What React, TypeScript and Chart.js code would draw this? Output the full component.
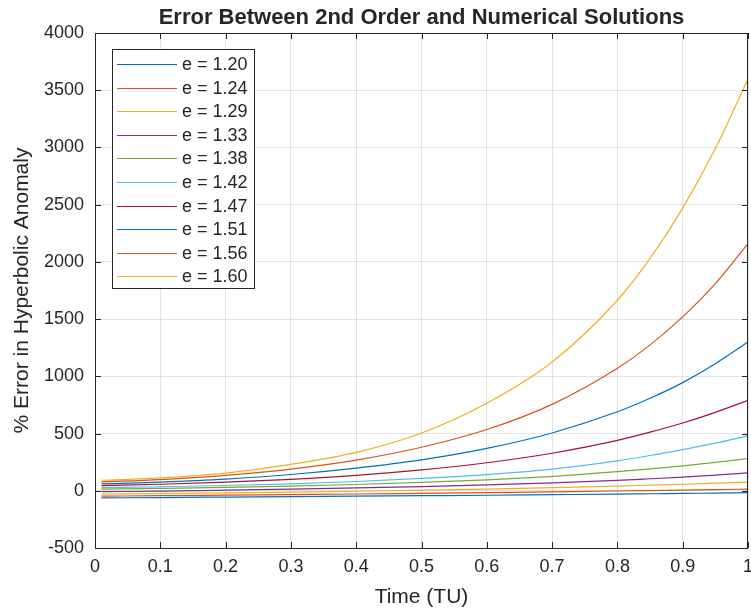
import React, { useEffect, useRef } from 'react';
import { Chart, registerables } from 'chart.js';

Chart.register(...registerables);

// Sample times (TU) shared by every series
const timeTU = [0.01, 0.1, 0.2, 0.3, 0.4, 0.5, 0.6, 0.7, 0.8, 0.85, 0.9, 0.95, 1.0];

// Eccentricity of each trajectory
const eccentricityLabels = [
  'e = 1.20', 'e = 1.24', 'e = 1.29', 'e = 1.33', 'e = 1.38',
  'e = 1.42', 'e = 1.47', 'e = 1.51', 'e = 1.56', 'e = 1.60',
];

// % error in hyperbolic anomaly at each sample time
const errE120 = [-62, -59, -55, -51, -47, -43, -39, -34, -29, -26, -23, -20, -17];
const errE124 = [-47, -43, -38, -33, -28, -22, -16, -9, -2, 2, 6, 10, 15];
const errE129 = [-28, -24, -18, -11, -4, 5, 15, 27, 41, 49, 57, 66, 75];
const errE133 = [-8, -3, 5, 14, 25, 37, 51, 69, 91, 105, 120, 137, 157];
const errE138 = [15, 21, 29, 40, 55, 73, 96, 126, 168, 192, 218, 248, 282];
const errE142 = [28, 35, 46, 61, 81, 108, 142, 190, 262, 308, 360, 416, 480];
const errE147 = [45, 57, 75, 100, 135, 183, 245, 328, 440, 512, 592, 685, 790];
const errE151 = [60, 76, 102, 142, 198, 270, 370, 505, 690, 808, 945, 1110, 1300];
const errE156 = [78, 98, 135, 190, 268, 380, 535, 755, 1070, 1275, 1520, 1810, 2160];
const errE160 = [92, 112, 155, 230, 335, 505, 765, 1125, 1665, 2030, 2470, 2990, 3600];

const seriesValues = [
  errE120, errE124, errE129, errE133, errE138,
  errE142, errE147, errE151, errE156, errE160,
];

// Default line colour order, cycling after seven
const lineColors = [
  '#0072BD', '#D95319', '#EDB120', '#7E2F8E', '#77AC30',
  '#4DBEEE', '#A2142F', '#0072BD', '#D95319', '#EDB120',
];

const TEXT = '#262626';
const FONT = "'Liberation Sans', Arial, Helvetica, sans-serif";
const TITLE = 'Error Between 2nd Order and Numerical Solutions';

// Title over the plot, axes box, inward tick marks and the boxed legend
const frameAndLegend = {
  id: 'frameAndLegend',
  afterDatasetsDraw(chart: any) {
    const { ctx, chartArea } = chart;
    const { left, right, top, bottom } = chartArea;
    const xs = chart.scales.x;
    const ys = chart.scales.y;
    const tick = 6;
    ctx.save();

    ctx.fillStyle = TEXT;
    ctx.font = `bold 22px ${FONT}`;
    ctx.textAlign = 'center';
    ctx.textBaseline = 'middle';
    ctx.fillText(TITLE, (left + right) / 2, top - 15);

    ctx.strokeStyle = TEXT;
    ctx.lineWidth = 1;
    ctx.beginPath();
    xs.ticks.forEach((t: any) => {
      const px = Math.round(xs.getPixelForValue(t.value)) + 0.5;
      ctx.moveTo(px, bottom);
      ctx.lineTo(px, bottom - tick);
      ctx.moveTo(px, top);
      ctx.lineTo(px, top + tick);
    });
    ys.ticks.forEach((t: any) => {
      const py = Math.round(ys.getPixelForValue(t.value)) + 0.5;
      ctx.moveTo(left, py);
      ctx.lineTo(left + tick, py);
      ctx.moveTo(right, py);
      ctx.lineTo(right - tick, py);
    });
    ctx.stroke();
    ctx.strokeRect(Math.round(left) + 0.5, Math.round(top) + 0.5,
      Math.round(right - left) - 1, Math.round(bottom - top));

    // legend
    const lx = Math.round(left) + 17;
    const ly = Math.round(top) + 16;
    const lw = 142;
    const rowH = 23.6;
    const lh = 239;
    ctx.fillStyle = '#ffffff';
    ctx.fillRect(lx, ly, lw, lh);
    ctx.strokeStyle = TEXT;
    ctx.strokeRect(lx + 0.5, ly + 0.5, lw, lh);
    ctx.font = `18px ${FONT}`;
    ctx.textBaseline = 'middle';
    ctx.textAlign = 'left';
    chart.data.datasets.forEach((ds: any, i: number) => {
      const cy = ly + 15 + i * rowH;
      ctx.strokeStyle = ds.borderColor;
      ctx.lineWidth = 1.2;
      ctx.beginPath();
      ctx.moveTo(lx + 5, Math.round(cy) + 0.5);
      ctx.lineTo(lx + 65, Math.round(cy) + 0.5);
      ctx.stroke();
      ctx.fillStyle = TEXT;
      ctx.fillText(ds.label, lx + 70, cy + 1);
    });
    ctx.restore();
  },
};

export default function App() {
  const canvasRef = useRef<HTMLCanvasElement | null>(null);

  useEffect(() => {
    const canvas = canvasRef.current;
    if (!canvas) return;
    const datasets = seriesValues.map((vals, i) => ({
      label: eccentricityLabels[i],
      data: timeTU.map((t, j) => ({ x: t, y: vals[j] })),
      borderColor: lineColors[i],
      backgroundColor: lineColors[i],
      borderWidth: 1.2,
      pointRadius: 0,
      fill: false,
      cubicInterpolationMode: 'monotone' as const,
    }));

    const chart = new Chart(canvas, {
      type: 'line',
      data: { datasets },
      options: {
        animation: false,
        responsive: false,
        devicePixelRatio: 1,
        layout: { padding: { top: 33, right: 3, left: 0, bottom: 0 } },
        plugins: {
          legend: { display: false },
          tooltip: { enabled: false },
          title: { display: false },
        },
        scales: {
          x: {
            type: 'linear',
            min: 0,
            max: 1,
            ticks: {
              stepSize: 0.1,
              color: TEXT,
              font: { family: FONT, size: 18 },
              padding: 8,
              maxRotation: 0,
              callback: (v: any) => String(Number(Number(v).toFixed(1))),
            },
            grid: { color: 'rgba(38,38,38,0.13)', drawTicks: false },
            border: { display: false },
            title: {
              display: true,
              text: 'Time (TU)',
              color: TEXT,
              font: { family: FONT, size: 21 },
              padding: { top: 0, bottom: 1 },
            },
            afterFit: (s: any) => {
              s.height = 63;
              s.paddingLeft = 0;
              s.paddingRight = 0;
            },
          },
          y: {
            min: -500,
            max: 4000,
            ticks: {
              stepSize: 500,
              color: TEXT,
              font: { family: FONT, size: 18 },
              padding: 11,
              callback: (v: any) => String(v),
            },
            grid: { color: 'rgba(38,38,38,0.13)', drawTicks: false },
            border: { display: false },
            title: {
              display: true,
              text: '% Error in Hyperbolic Anomaly',
              color: TEXT,
              font: { family: FONT, size: 21 },
              padding: { top: 10, bottom: 0 },
            },
            afterFit: (s: any) => {
              s.width = 95;
              s.paddingTop = 0;
              s.paddingBottom = 0;
            },
          },
        },
      },
      plugins: [frameAndLegend],
    });

    return () => chart.destroy();
  }, []);

  return (
    <div style={{ position: 'absolute', left: 0, top: 0, width: 751, height: 611, background: '#fff' }}>
      <canvas ref={canvasRef} width={751} height={611} />
    </div>
  );
}
